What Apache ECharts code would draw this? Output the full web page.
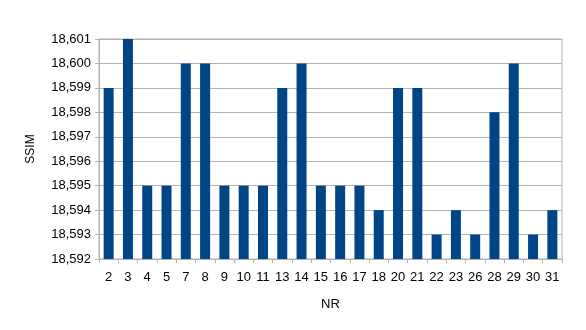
<!DOCTYPE html>
<html>
<head>
<meta charset="utf-8">
<script src="https://cdn.jsdelivr.net/npm/echarts@6/dist/echarts.min.js"></script>
<style>html,body{margin:0;padding:0;background:#fff}#c{width:586px;height:330px}</style>
</head>
<body>
<div id="c"></div>
<script>
const categories = ['2','3','4','5','7','8','9','10','11','13','14','15','16','17','18','20','21','22','23','26','28','29','30','31'];
const ssimValues = [18.599,18.601,18.595,18.595,18.600,18.600,18.595,18.595,18.595,18.599,18.600,18.595,18.595,18.595,18.594,18.599,18.599,18.593,18.594,18.593,18.598,18.600,18.593,18.594];
const yMin = 18.592, yMax = 18.601, yStep = 0.001;
const xName = 'NR', yName = 'SSIM';

const chart = echarts.init(document.getElementById('c'), null, {renderer: 'canvas'});
const font = 'Liberation Sans, Arial, sans-serif';
chart.setOption({
  animation: false,
  grid: {left: 99, right: 24, top: 39, bottom: 71, show: true, borderColor: '#b3b3b3', borderWidth: 1},
  xAxis: {
    type: 'category', data: categories,
    name: xName, nameLocation: 'middle', nameGap: 39,
    nameTextStyle: {fontFamily: font, fontSize: 13, color: '#000'},
    axisLine: {lineStyle: {color: '#b3b3b3'}},
    axisTick: {show: true, length: 4, lineStyle: {color: '#b3b3b3'}},
    axisLabel: {fontFamily: font, fontSize: 13, color: '#000', margin: 12, interval: 0}
  },
  yAxis: {
    type: 'value', min: yMin, max: yMax, interval: yStep,
    name: yName, nameLocation: 'middle', nameGap: 62,
    nameTextStyle: {fontFamily: font, fontSize: 12, color: '#000'},
    axisLine: {show: true, lineStyle: {color: '#b3b3b3'}},
    axisTick: {show: true, length: 4, lineStyle: {color: '#b3b3b3'}},
    splitLine: {lineStyle: {color: '#b3b3b3'}},
    axisLabel: {fontFamily: font, fontSize: 13, color: '#000', margin: 8,
      formatter: v => v.toFixed(3).replace('.', ',')}
  },
  series: [{
    type: 'bar', data: ssimValues, barWidth: 10,
    itemStyle: {color: '#004586'}
  }]
});
</script>
</body>
</html>
